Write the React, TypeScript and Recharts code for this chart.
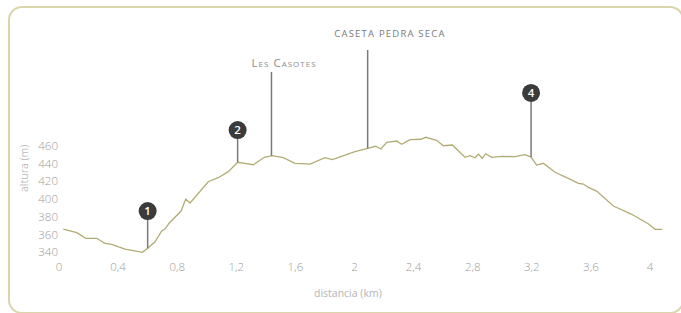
import React from 'react';
import { LineChart, Line, XAxis, YAxis, ReferenceLine, ReferenceDot } from 'recharts';

const distanceKm = [0.029, 0.12, 0.181, 0.255, 0.311, 0.357, 0.447, 0.514, 0.564, 0.6, 0.65, 0.695, 0.717, 0.745, 0.826, 0.858, 0.887, 1.01, 1.078, 1.146, 1.209, 1.259, 1.315, 1.39, 1.444, 1.518, 1.597, 1.699, 1.8, 1.85, 2.003, 2.089, 2.143, 2.179, 2.218, 2.286, 2.319, 2.376, 2.45, 2.482, 2.556, 2.601, 2.662, 2.748, 2.782, 2.816, 2.838, 2.865, 2.888, 2.929, 2.996, 3.086, 3.154, 3.195, 3.233, 3.278, 3.357, 3.447, 3.515, 3.549, 3.582, 3.639, 3.752, 3.876, 3.988, 4.034, 4.083];
const altitudeM = [366.2, 362.1, 355.8, 355.8, 350.1, 349.0, 343.7, 341.5, 340.0, 344.5, 351.9, 364.0, 366.2, 372.7, 386.5, 400.0, 395.5, 419.5, 424.0, 430.8, 441.4, 440.2, 438.6, 447.0, 448.8, 446.5, 440.2, 439.4, 446.5, 444.3, 453.3, 457.1, 459.4, 456.3, 463.9, 465.3, 461.6, 466.8, 467.3, 469.5, 466.1, 460.0, 460.8, 447.0, 448.8, 446.5, 450.4, 445.9, 451.0, 447.0, 448.1, 447.7, 449.9, 447.3, 438.3, 440.2, 430.1, 423.3, 417.7, 416.9, 413.2, 409.0, 392.1, 382.8, 372.2, 365.9, 365.9];

const xTicks = [0, 0.4, 0.8, 1.2, 1.6, 2, 2.4, 2.8, 3.2, 3.6, 4];
const yTicks = [340, 360, 380, 400, 420, 440, 460];

const markerLabels = ['1', '2', '4'];
const markerKm = [0.6, 1.209, 3.195];
const markerBaseAlt = [344.5, 441.4, 447.3];
const markerTopAlt = [386.5, 477.7, 519.4];

const placeNames = ['Les Casotes', 'caseta pedra seca'];
const placeKm = [1.438, 2.089];
const placeBaseAlt = [448.8, 457.1];
const placeTopAlt = [543, 567.8];
const placeLabelKm = [1.523, 2.24];
const placeLabelAlt = [555.4, 585.8];

const data = distanceKm.map((d, i) => ({ d, alt: altitudeM[i] }));

const FONT = '"Open Sans", sans-serif';
const LINE_COLOR = '#b2ac74';
const POLE_COLOR = '#7a7a7a';

const fmt = (v: number) => String(v).replace('.', ',');

const XTick = (p: any) => (
  <text x={p.x} y={p.y} dy="0.355em" textAnchor="middle" fontFamily={FONT} fontSize={11.5} fontWeight={300} fill="#9b9b9b">
    {fmt(p.payload.value)}
  </text>
);
const YTick = (p: any) => (
  <text x={p.x} y={p.y} dy="0.355em" textAnchor="end" fontFamily={FONT} fontSize={11.5} fontWeight={300} fill="#9b9b9b">
    {p.payload.value}
  </text>
);

const MarkerShape = (label: string) => (p: any) => (
  <g>
    <circle cx={p.cx} cy={p.cy} r={9} fill="#3b3b3b" />
    <text x={p.cx} y={p.cy} dy="0.36em" textAnchor="middle" fontFamily={FONT} fontSize={11.5} fontWeight={600} fill="#fff">
      {label}
    </text>
  </g>
);

const PlaceShape = (name: string, idx: number) => (p: any) => {
  if (idx === 0) {
    const words = name.split(' ');
    return (
      <text x={p.cx} y={p.cy} dy="0.36em" textAnchor="middle" fontFamily={FONT} fill="#8c8c8c" letterSpacing={1}>
        {words.map((w, i) => (
          <React.Fragment key={i}>
            <tspan fontSize={11.5}>{(i > 0 ? ' ' : '') + w[0].toUpperCase()}</tspan>
            <tspan fontSize={8}>{w.slice(1).toUpperCase()}</tspan>
          </React.Fragment>
        ))}
      </text>
    );
  }
  return (
    <text x={p.cx} y={p.cy} dy="0.36em" textAnchor="middle" fontFamily={FONT} fontSize={9.5} fill="#7a7a7a" letterSpacing={1.2}>
      {name.toUpperCase()}
    </text>
  );
};

export default function App() {
  return (
    <div style={{ position: 'fixed', left: 0, top: 0, width: 681, height: 313, overflow: 'hidden', background: '#fff' }}>
      <div
        style={{
          position: 'absolute',
          left: 8,
          top: 6,
          width: 676,
          height: 308,
          border: '2px solid #dbd5ae',
          borderRadius: 14,
          boxSizing: 'border-box',
        }}
      />
      <div style={{ position: 'absolute', left: 0, top: 0 }}>
        <LineChart width={681} height={313} data={data} margin={{ top: 21.4, right: 16.2, bottom: 21.8, left: 0 }}>
          <XAxis
            dataKey="d"
            type="number"
            domain={[0, 4.1]}
            ticks={xTicks}
            axisLine={false}
            tickLine={false}
            tickSize={0}
            tickMargin={6}
            height={30}
            tick={XTick}
            interval={0}
            label={{
              content: (lp: any) => {
                const vb = lp.viewBox || { x: 59, y: 261, width: 606 };
                return (
                  <text x={vb.x + vb.width / 2 - 14} y={vb.y + 36} textAnchor="middle" fontFamily={FONT} fontSize={10.5} fill="#b5b5b5">
                    distancia (km)
                  </text>
                );
              },
            }}
          />
          <YAxis
            type="number"
            domain={[330, 600]}
            ticks={yTicks}
            axisLine={false}
            tickLine={false}
            tickSize={0}
            tickMargin={1}
            width={59}
            tick={YTick}
            interval={0}
            allowDataOverflow
            label={{
              content: (lp: any) => {
                const vb = lp.viewBox || { x: 0, y: 21, width: 59, height: 240 };
                const cx = vb.x + 24.5;
                const cy = vb.y + vb.height / 2 + 27;
                return (
                  <text x={cx} y={cy} dy="0.36em" textAnchor="middle" transform={`rotate(-90 ${cx} ${cy})`} fontFamily={FONT} fontSize={10.5} fill="#bdbdbd">
                    altura (m)
                  </text>
                );
              },
            }}
          />
          <Line type="linear" dataKey="alt" stroke={LINE_COLOR} strokeWidth={1.3} dot={false} isAnimationActive={false} />
          {placeNames.map((n, i) => (
            <ReferenceLine
              key={'pl' + i}
              segment={[
                { x: placeKm[i], y: placeBaseAlt[i] },
                { x: placeKm[i], y: placeTopAlt[i] },
              ]}
              stroke={POLE_COLOR}
              strokeWidth={1.5}
            />
          ))}
          {placeNames.map((n, i) => (
            <ReferenceDot key={'pt' + i} x={placeLabelKm[i]} y={placeLabelAlt[i]} r={0} shape={PlaceShape(n, i)} />
          ))}
          {markerLabels.map((m, i) => (
            <ReferenceLine
              key={'ml' + i}
              segment={[
                { x: markerKm[i], y: markerBaseAlt[i] },
                { x: markerKm[i], y: markerTopAlt[i] },
              ]}
              stroke={POLE_COLOR}
              strokeWidth={1.5}
            />
          ))}
          {markerLabels.map((m, i) => (
            <ReferenceDot key={'md' + i} x={markerKm[i]} y={markerTopAlt[i]} r={9} shape={MarkerShape(m)} />
          ))}
        </LineChart>
      </div>
    </div>
  );
}
